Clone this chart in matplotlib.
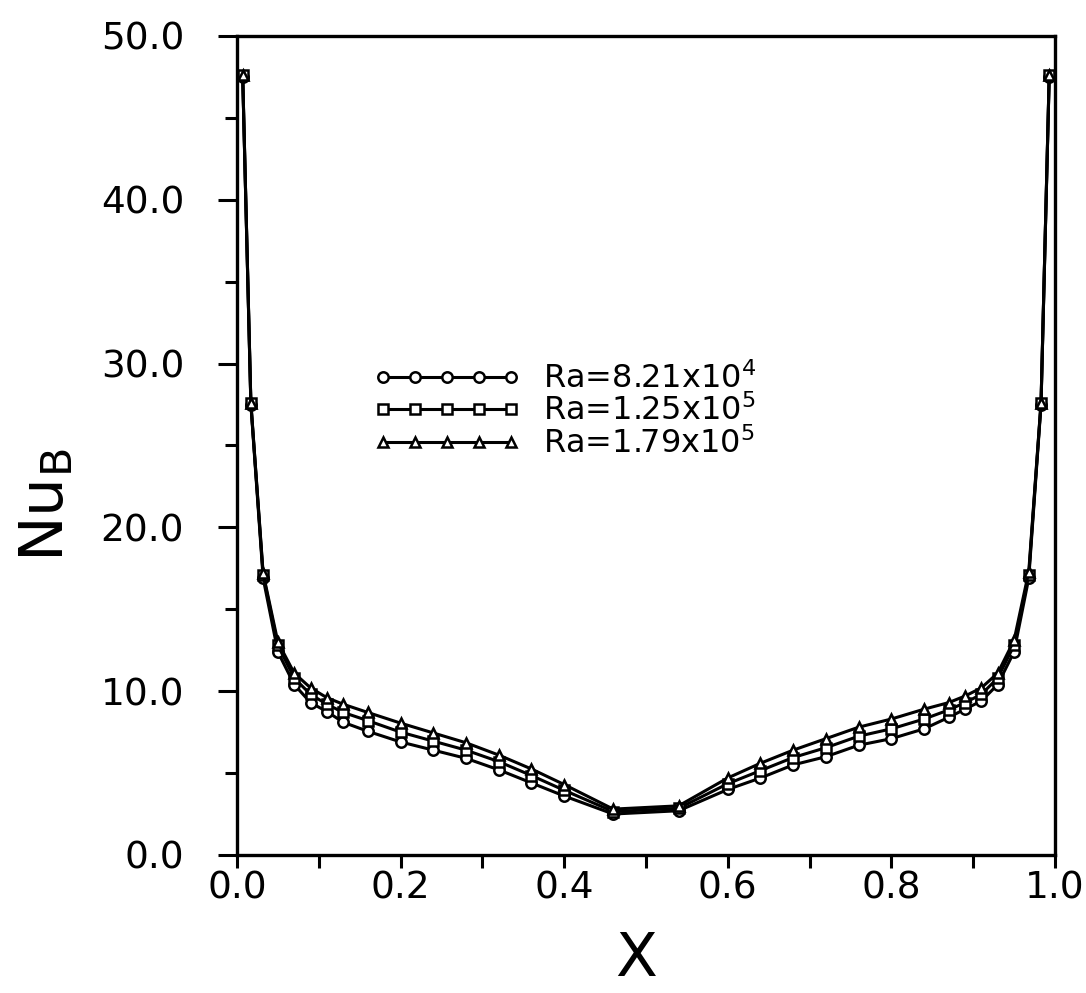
import matplotlib
matplotlib.use("Agg")
import matplotlib.pyplot as plt
from matplotlib.ticker import MultipleLocator, FormatStrFormatter

plt.rcParams['font.family'] = ['DejaVu Sans']
plt.rcParams['mathtext.default'] = 'regular'

# positions along the wall (symmetric grid)
x = [0.007, 0.017, 0.032, 0.05, 0.07, 0.09, 0.11, 0.13, 0.16, 0.20, 0.24, 0.28, 0.32, 0.36, 0.40, 0.46,
     0.54, 0.60, 0.64, 0.68, 0.72, 0.76, 0.80, 0.84, 0.87, 0.89, 0.91, 0.93, 0.95, 0.968, 0.983, 0.993]

nu_ra1 = [47.5, 27.5, 16.9, 12.4, 10.4, 9.3, 8.75, 8.1, 7.55, 6.9, 6.4, 5.9, 5.2, 4.4, 3.6, 2.5,
          2.7, 4.0, 4.7, 5.5, 6.0, 6.7, 7.1, 7.7, 8.4, 8.9, 9.4, 10.4, 12.4, 16.9, 27.5, 47.5]
nu_ra2 = [47.6, 27.6, 17.1, 12.8, 10.8, 9.8, 9.2, 8.7, 8.2, 7.5, 6.95, 6.4, 5.7, 4.85, 3.95, 2.65,
          2.85, 4.35, 5.15, 5.95, 6.55, 7.25, 7.7, 8.3, 8.85, 9.3, 9.8, 10.8, 12.8, 17.1, 27.6, 47.6]
nu_ra3 = [47.6, 27.6, 17.2, 13.0, 11.1, 10.2, 9.6, 9.2, 8.7, 8.05, 7.45, 6.85, 6.1, 5.25, 4.3, 2.8,
          3.0, 4.7, 5.6, 6.4, 7.1, 7.8, 8.3, 8.9, 9.3, 9.7, 10.2, 11.1, 13.1, 17.3, 27.6, 47.6]

labels = ['Ra=8.21x10$^4$', 'Ra=1.25x10$^5$', 'Ra=1.79x10$^5$']
markers = ['o', 's', '^']

fig = plt.figure(figsize=(10.86, 9.93), dpi=100)
ax = fig.add_axes([0.2182, 0.139, 0.7532, 0.8248])

for y, m, lab in zip([nu_ra1, nu_ra2, nu_ra3], markers, labels):
    ms = 7.5 if m != 's' else 6.5
    ax.plot(x, y, color='black', lw=2.2, marker=m, ms=ms, mfc='white',
            mec='black', mew=1.8, label=lab)

ax.set_xlim(0, 1)
ax.set_ylim(0, 50)

ax.xaxis.set_major_locator(MultipleLocator(0.2))
ax.xaxis.set_minor_locator(MultipleLocator(0.1))
ax.yaxis.set_major_locator(MultipleLocator(10))
ax.yaxis.set_minor_locator(MultipleLocator(5))
ax.xaxis.set_major_formatter(FormatStrFormatter('%.1f'))
ax.yaxis.set_major_formatter(FormatStrFormatter('%.1f'))

for s in ax.spines.values():
    s.set_linewidth(2.4)

ax.tick_params(axis='x', which='both', direction='out', length=9.5, width=2.2, pad=2, labelsize=27)
ax.tick_params(axis='y', which='major', direction='out', length=14, width=2.2, pad=24, labelsize=27)
ax.tick_params(axis='y', which='minor', direction='out', length=9, width=2.2)

fig.text(47 / 1086, 1 - 505 / 993, 'Nu$_B$', rotation=90, ha='center', va='center', fontsize=44)
fig.text(636 / 1086, 1 - 960 / 993, 'X', ha='center', va='center', fontsize=44)

ax.legend(loc='center left', bbox_to_anchor=(0.167, 0.542), frameon=False, numpoints=5,
          handlelength=4.6, handletextpad=0.7, labelspacing=0.0, fontsize=23,
          borderpad=0, borderaxespad=0)

fig.savefig('out.png', dpi=100)
